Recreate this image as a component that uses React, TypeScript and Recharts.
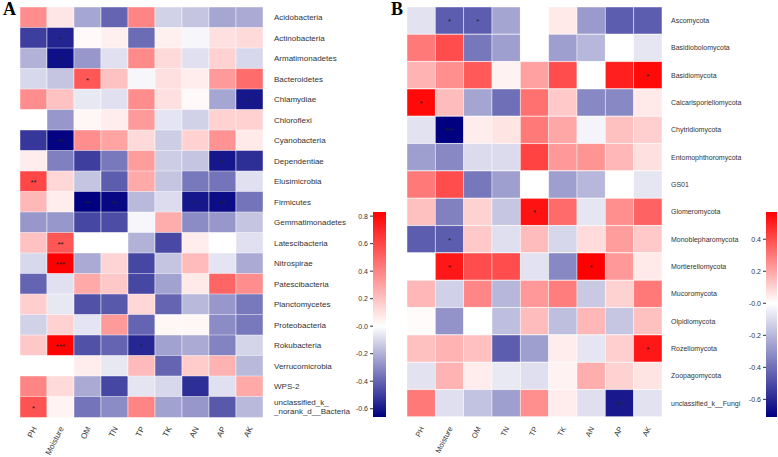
import React from "react";
import { BarChart, Bar, XAxis, YAxis } from "recharts";

const columns = ["PH", "Moisture", "OM", "TN", "TP", "TK", "AN", "AP", "AK"];

const bacteriaNames = [
  "Acidobacteria",
  "Actinobacteria",
  "Armatimonadetes",
  "Bacteroidetes",
  "Chlamydiae",
  "Chloroflexi",
  "Cyanobacteria",
  "Dependentiae",
  "Elusimicrobia",
  "Firmicutes",
  "Gemmatimonadetes",
  "Latescibacteria",
  "Nitrospirae",
  "Patescibacteria",
  "Planctomycetes",
  "Proteobacteria",
  "Rokubacteria",
  "Verrucomicrobia",
  "WPS-2",
  "unclassified_k_\n_norank_d__Bacteria",
];

const bacteriaValues = [
  [0.37, 0.08, -0.23, -0.4, 0.4, -0.12, -0.15, -0.23, -0.22],
  [-0.5, -0.57, 0.02, 0.05, -0.38, 0.05, -0.02, 0.1, 0.12],
  [-0.2, -0.62, -0.27, -0.08, 0.38, 0.12, -0.08, 0.15, -0.1],
  [-0.1, -0.15, 0.55, 0.2, -0.02, 0.1, 0.06, 0.33, 0.48],
  [0.37, 0.2, -0.06, -0.08, 0.37, 0.1, 0.02, -0.23, -0.6],
  [0.0, -0.27, 0.03, 0.06, 0.33, -0.07, -0.12, 0.15, 0.15],
  [-0.52, -0.65, 0.37, 0.3, 0.12, -0.13, 0.15, 0.35, 0.07],
  [0.06, -0.33, -0.5, -0.35, 0.32, -0.13, -0.15, -0.6, -0.54],
  [0.6, 0.13, -0.15, -0.42, 0.28, -0.15, -0.35, -0.36, -0.08],
  [0.23, 0.06, -0.66, -0.64, -0.18, -0.09, -0.6, -0.63, -0.36],
  [-0.27, -0.27, -0.48, -0.46, -0.02, 0.27, -0.3, -0.27, -0.15],
  [0.2, 0.55, 0.0, 0.0, -0.2, -0.47, 0.06, 0.0, -0.08],
  [-0.1, 0.83, -0.22, 0.14, -0.48, -0.15, 0.22, -0.07, -0.22],
  [-0.4, -0.08, 0.28, 0.18, -0.48, -0.24, 0.07, 0.5, 0.37],
  [0.16, -0.06, -0.45, -0.43, 0.13, -0.4, -0.18, -0.27, -0.35],
  [-0.12, 0.15, -0.07, 0.33, -0.4, 0.03, 0.03, -0.3, -0.35],
  [0.18, 0.82, -0.45, -0.4, -0.56, -0.24, -0.22, -0.32, -0.11],
  [0.0, 0.0, 0.06, -0.06, 0.22, -0.4, 0.17, 0.25, -0.18],
  [0.4, 0.12, -0.22, -0.48, -0.07, -0.1, -0.54, -0.08, 0.28],
  [0.56, 0.04, -0.36, -0.3, 0.4, -0.24, -0.27, -0.43, -0.18],
];

// [row, column, significance]
const bacteriaStars: [number, number, string][] = [
  [1, 1, "*"], [2, 1, "*"], [3, 2, "*"], [4, 8, "*"], [6, 1, "**"],
  [7, 7, "*"], [8, 0, "**"], [9, 2, "**"], [9, 3, "**"], [9, 6, "*"],
  [9, 7, "**"], [11, 1, "**"], [12, 1, "***"], [16, 1, "***"], [16, 4, "*"],
  [19, 0, "*"],
];

const fungiNames = [
  "Ascomycota",
  "Basidiobolomycota",
  "Basidiomycota",
  "Calcarisporiellomycota",
  "Chytridiomycota",
  "Entomophthoromycota",
  "GS01",
  "Glomeromycota",
  "Monoblepharomycota",
  "Mortierellomycota",
  "Mucoromycota",
  "Olpidiomycota",
  "Rozellomycota",
  "Zoopagomycota",
  "unclassified_k__Fungi",
];

const fungiValues = [
  [-0.08, -0.45, -0.45, -0.25, 0.0, 0.05, -0.28, -0.45, -0.45],
  [0.3, 0.4, -0.38, -0.27, 0.0, -0.27, -0.2, 0.0, -0.07],
  [0.17, 0.25, 0.37, 0.03, 0.21, 0.4, 0.0, 0.5, 0.55],
  [0.55, 0.15, -0.25, -0.4, 0.32, 0.12, -0.33, -0.33, 0.05],
  [-0.08, -0.71, 0.04, 0.06, 0.3, 0.2, -0.03, 0.14, 0.11],
  [-0.27, -0.33, -0.1, -0.1, 0.42, 0.23, 0.24, 0.16, 0.07],
  [0.3, 0.4, -0.38, -0.27, 0.0, -0.27, -0.2, 0.0, -0.07],
  [0.14, -0.35, 0.1, -0.16, 0.53, 0.33, -0.07, 0.25, 0.35],
  [-0.45, -0.45, 0.12, -0.09, 0.15, -0.11, 0.08, 0.22, 0.12],
  [0.0, 0.52, 0.4, 0.4, -0.08, -0.33, 0.57, 0.23, 0.05],
  [0.16, -0.13, 0.27, -0.2, 0.23, 0.29, -0.15, 0.1, 0.3],
  [0.01, -0.3, 0.0, -0.18, 0.15, -0.18, 0.16, -0.16, 0.14],
  [0.14, 0.17, 0.14, -0.45, -0.27, 0.04, -0.07, 0.11, 0.52],
  [-0.08, 0.17, 0.04, -0.06, -0.09, 0.03, 0.18, 0.1, 0.06],
  [0.3, -0.09, -0.17, -0.27, 0.25, 0.04, -0.09, -0.64, -0.08],
];

const fungiStars: [number, number, string][] = [
  [0, 1, "*"], [0, 2, "*"], [2, 8, "*"], [3, 0, "*"], [4, 1, "***"],
  [7, 4, "*"], [8, 1, "*"], [9, 1, "*"], [9, 6, "*"], [12, 8, "*"],
  [14, 7, "**"],
];

const rangeA: [number, number] = [-0.66, 0.83];
const ticksA = [-0.6, -0.4, -0.2, 0, 0.2, 0.4, 0.6, 0.8];
const rangeB: [number, number] = [-0.71, 0.57];
const ticksB = [-0.6, -0.4, -0.2, 0, 0.2, 0.4];

const FONT = "'Liberation Sans', Arial, sans-serif";
const TEXT = "#333";

function colorFor(v: number, range: [number, number]) {
  if (v >= 0) {
    const t = Math.min(1, v / range[1]);
    const g = Math.round(255 * (1 - t));
    return `rgb(255,${g},${g})`;
  }
  const t = Math.min(1, v / range[0]);
  const rg = Math.round(255 * (1 - t));
  const b = Math.round(255 - 127 * t);
  return `rgb(${rg},${rg},${b})`;
}

function fmtTick(v: number) {
  if (Math.abs(v) < 1e-9) return "-0.0";
  return v.toFixed(1);
}

type HeatmapProps = {
  names: string[];
  values: number[][];
  stars: [number, number, string][];
  range: [number, number];
  left: number;
  width: number;
  marginLeft: number;
  yAxisWidth: number;
  labelOffset: number;
  rowFont: number;
  colFont: number;
};

function Heatmap(p: HeatmapProps) {
  const data = p.names.map((name, r) => {
    const row: any = { name, rowIdx: r };
    columns.forEach((c) => (row[c] = 1));
    return row;
  });
  const starAt = (r: number, c: number) => {
    const s = p.stars.find((e) => e[0] === r && e[1] === c);
    return s ? s[2] : "";
  };

  const RowTick = (tp: any) => {
    const lines = String(tp.payload.value).split("\n");
    const lh = 9;
    const start = -((lines.length - 1) * lh) / 2;
    return (
      <text
        x={tp.x + p.labelOffset}
        y={tp.y}
        textAnchor="start"
        fontSize={p.rowFont}
        fontFamily={FONT}
        fill={TEXT}
      >
        {lines.map((l, i) => (
          <tspan key={i} x={tp.x + p.labelOffset} y={tp.y + start + i * lh} dy="0.35em">
            {l}
          </tspan>
        ))}
      </text>
    );
  };

  const ColTick = (tp: any) => {
    const label = columns[Math.floor(tp.payload.value)];
    return (
      <g transform={`translate(${tp.x + 1},${tp.y + 10})`}>
        <text
          x={0}
          y={0}
          dy="0.35em"
          textAnchor="end"
          transform="rotate(-63)"
          fontSize={p.colFont}
          fontFamily={FONT}
          fill={TEXT}
        >
          {label}
        </text>
      </g>
    );
  };

  return (
    <div style={{ position: "absolute", left: p.left, top: 0 }}>
      <BarChart
        width={p.width}
        height={457}
        data={data}
        layout="vertical"
        margin={{ top: 7, right: 0, bottom: 0, left: p.marginLeft }}
        barCategoryGap={0}
        barGap={0}
      >
        <XAxis
          type="number"
          domain={[0, columns.length]}
          ticks={columns.map((_, i) => i + 0.5)}
          interval={0}
          axisLine={false}
          tickLine={false}
          tickSize={0}
          tickMargin={0}
          height={40}
          tick={<ColTick />}
          allowDecimals
        />
        <YAxis
          type="category"
          dataKey="name"
          orientation="right"
          width={p.yAxisWidth}
          axisLine={false}
          tickLine={false}
          tickSize={0}
          tickMargin={0}
          interval={0}
          tick={<RowTick />}
        />
        {columns.map((c, ci) => (
          <Bar
            key={c}
            dataKey={c}
            stackId="cells"
            isAnimationActive={false}
            shape={(sp: any) => {
              const r = sp.payload.rowIdx;
              const v = p.values[r][ci];
              const s = starAt(r, ci);
              return (
                <g>
                  <rect
                    x={sp.x}
                    y={sp.y}
                    width={sp.width}
                    height={sp.height}
                    fill={colorFor(v, p.range)}
                    stroke="rgba(255,255,255,0.55)"
                    strokeWidth={0.8}
                  />
                  {s ? (
                    <text
                      x={sp.x + sp.width / 2}
                      y={sp.y + sp.height / 2 + 3.5}
                      textAnchor="middle"
                      fontSize={8}
                      fontFamily={FONT}
                      fill="#222"
                    >
                      {s}
                    </text>
                  ) : null}
                </g>
              );
            }}
          />
        ))}
      </BarChart>
    </div>
  );
}

type ColorbarProps = {
  id: string;
  range: [number, number];
  ticks: number[];
  left: number;
  width: number;
  yAxisWidth: number;
  marginRight: number;
  fontSize: number;
};

function Colorbar(p: ColorbarProps) {
  const data = [{ name: "cb", span: p.range }];
  const zero = p.range[1] / (p.range[1] - p.range[0]);
  return (
    <div style={{ position: "absolute", left: p.left, top: 200 }}>
      <BarChart
        width={p.width}
        height={230}
        data={data}
        margin={{ top: 12, right: p.marginRight, bottom: 13, left: 0 }}
        barCategoryGap={0}
      >
        <defs>
          <linearGradient id={p.id} x1="0" y1="0" x2="0" y2="1">
            <stop offset="0" stopColor="rgb(255,0,0)" />
            <stop offset={zero} stopColor="#ffffff" />
            <stop offset="1" stopColor="rgb(0,0,128)" />
          </linearGradient>
        </defs>
        <XAxis dataKey="name" type="category" hide />
        <YAxis
          type="number"
          domain={p.range}
          ticks={p.ticks}
          allowDataOverflow
          interval={0}
          width={p.yAxisWidth}
          axisLine={false}
          tickSize={3}
          tickMargin={2}
          tickLine={{ stroke: TEXT }}
          tick={{ fontSize: p.fontSize, fill: TEXT, fontFamily: FONT }}
          tickFormatter={fmtTick}
        />
        <Bar dataKey="span" fill={`url(#${p.id})`} isAnimationActive={false} />
      </BarChart>
    </div>
  );
}

export default function App() {
  return (
    <div
      style={{
        position: "absolute",
        left: 0,
        top: 0,
        width: 778,
        height: 457,
        background: "#fff",
        overflow: "hidden",
      }}
    >
      <svg
        width={778}
        height={457}
        style={{ position: "absolute", left: 0, top: 0, pointerEvents: "none" }}
      >
        <text x={3} y={15} fontSize={18} fontWeight="bold" fontFamily="'Liberation Serif', 'Times New Roman', serif" fill="#000">
          A
        </text>
        <text x={391} y={15} fontSize={18} fontWeight="bold" fontFamily="'Liberation Serif', 'Times New Roman', serif" fill="#000">
          B
        </text>
      </svg>
      <Heatmap
        names={bacteriaNames}
        values={bacteriaValues}
        stars={bacteriaStars}
        range={rangeA}
        left={0}
        width={380}
        marginLeft={20}
        yAxisWidth={117}
        labelOffset={11}
        rowFont={8}
        colFont={8}
      />
      <Colorbar
        id="gradA"
        range={rangeA}
        ticks={ticksA}
        left={330}
        width={60}
        yAxisWidth={43}
        marginRight={4}
        fontSize={7}
      />
      <Heatmap
        names={fungiNames}
        values={fungiValues}
        stars={fungiStars}
        range={rangeB}
        left={390}
        width={388}
        marginLeft={17}
        yAxisWidth={116}
        labelOffset={9}
        rowFont={7}
        colFont={7.5}
      />
      <Colorbar
        id="gradB"
        range={rangeB}
        ticks={ticksB}
        left={720}
        width={58}
        yAxisWidth={46}
        marginRight={1}
        fontSize={7}
      />
    </div>
  );
}
